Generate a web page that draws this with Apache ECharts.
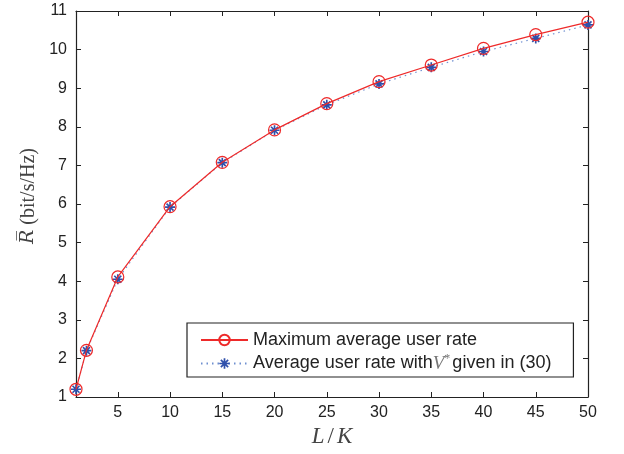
<!DOCTYPE html>
<html>
<head>
<meta charset="utf-8">
<script src="https://cdn.jsdelivr.net/npm/echarts@6/dist/echarts.min.js"></script>
<style>
  html, body { margin: 0; padding: 0; background: #fff; }
  #box { width: 624px; height: 454px; }
</style>
</head>
<body>
<div id="box"></div>
<script>
// L/K values
var ratio = [1, 2, 5, 10, 15, 20, 25, 30, 35, 40, 45, 50];
// average user rate (bit/s/Hz)
var maxRate = [1.20, 2.21, 4.11, 5.93, 7.08, 7.92, 8.60, 9.17, 9.60, 10.03, 10.39, 10.71];
var vStarRate = [1.20, 2.20, 4.05, 5.92, 7.07, 7.91, 8.57, 9.11, 9.54, 9.95, 10.29, 10.64];
var xTicks = [5, 10, 15, 20, 25, 30, 35, 40, 45, 50];
var seriesNames = ["Maximum average user rate", "Average user rate with V* given in (30)"];

var asterisk = "path://M-1,-6L1,-6L1,6L-1,6Z M-6,-1L6,-1L6,1L-6,1Z " +
  "M-4.9,-3.5L-3.5,-4.9L4.9,3.5L3.5,4.9Z M3.5,-4.9L4.9,-3.5L-3.5,4.9L-4.9,3.5Z";

function pairs(xs, ys) {
  return xs.map(function (x, i) { return [x, ys[i]]; });
}

var axisCommon = {
  axisLine: { show: true, lineStyle: { color: "#222", width: 1.2 } },
  axisTick: { inside: true, length: 5, lineStyle: { color: "#222" } },
  splitLine: { show: false }
};

var options = {
  animation: false,
  grid: { left: 76, right: 36, top: 11, bottom: 57 },
  legend: {
    orient: "vertical",
    left: 187,
    top: 323,
    padding: [8, 22, 4, 13],
    itemGap: 4,
    itemWidth: 47,
    itemHeight: 13,
    backgroundColor: "#fff",
    borderColor: "#222",
    borderWidth: 1.2,
    textStyle: {
      fontFamily: "Liberation Sans",
      fontSize: 18,
      color: "#222",
      rich: {
        v: { fontFamily: "Liberation Serif", fontStyle: "italic", fontSize: 19, color: "#777" },
        s: { fontFamily: "Liberation Serif", fontSize: 12, color: "#777", verticalAlign: "top", padding: [0, 2, 9, 0] }
      }
    },
    formatter: function (name) {
      if (name === seriesNames[1]) return "Average user rate with{v|V}{s|*}given in (30)";
      return name;
    },
    data: seriesNames
  },
  xAxis: [
    Object.assign({}, axisCommon, {
      type: "value", min: 1, max: 50,
      name: "{i|L}{n|/}{i|K}",
      nameLocation: "middle",
      nameGap: 20,
      nameTextStyle: {
        color: "#444",
        rich: {
          i: { fontFamily: "Liberation Serif", fontStyle: "italic", fontSize: 23, color: "#444" },
          n: { fontFamily: "Liberation Serif", fontSize: 23, color: "#444", padding: [0, 3, 0, 3] }
        }
      },
      axisTick: { inside: true, length: 5, lineStyle: { color: "#222" }, customValues: xTicks },
      axisLabel: { customValues: xTicks, fontFamily: "Liberation Sans", fontSize: 16, color: "#222", margin: 8 }
    }),
    Object.assign({}, axisCommon, {
      type: "value", min: 1, max: 50, position: "top",
      axisTick: { inside: true, length: 5, lineStyle: { color: "#222" }, customValues: xTicks },
      axisLabel: { show: false }
    })
  ],
  yAxis: [
    Object.assign({}, axisCommon, {
      type: "value", min: 1, max: 11, interval: 1,
      name: "{r|R\u0305} (bit/s/Hz)",
      nameLocation: "middle",
      nameGap: 35,
      nameTextStyle: {
        fontFamily: "Liberation Serif", fontSize: 20, color: "#444",
        padding: [0, 0, 0, 16],
        rich: {
          r: { fontFamily: "DejaVu Serif", fontStyle: "italic", fontSize: 19, color: "#444" }
        }
      },
      axisLabel: { fontFamily: "Liberation Sans", fontSize: 16, color: "#222", margin: 9 }
    }),
    Object.assign({}, axisCommon, {
      type: "value", min: 1, max: 11, interval: 1, position: "right",
      axisLabel: { show: false }
    })
  ],
  series: [
    {
      name: seriesNames[0],
      type: "line",
      symbol: "circle",
      symbolSize: 12,
      itemStyle: { color: "rgba(0,0,0,0)", borderColor: "#ee2a2a", borderWidth: 1.2 },
      lineStyle: { color: "#ee2a2a", width: 1.2 },
      z: 3,
      data: pairs(ratio, maxRate)
    },
    {
      name: seriesNames[1],
      type: "line",
      symbol: asterisk,
      symbolSize: 10,
      itemStyle: { color: "#2f50ab" },
      lineStyle: { color: "#6f8fd0", width: 1.2, type: [1.5, 4] },
      z: 2,
      data: pairs(ratio, vStarRate)
    }
  ]
};

var chart = echarts.init(document.getElementById("box"));
chart.setOption(options);
</script>
</body>
</html>
